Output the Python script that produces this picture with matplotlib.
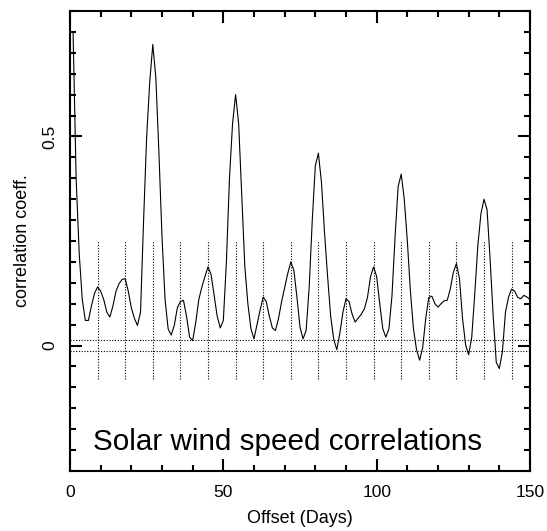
import numpy as np
import matplotlib
matplotlib.use("Agg")
import matplotlib.pyplot as plt
from matplotlib.ticker import MultipleLocator

# ---- data ----
days = list(range(1, 151))
corr = [
    0.75, 0.40, 0.22, 0.11, 0.06, 0.06, 0.095, 0.125, 0.14, 0.13,
    0.11, 0.08, 0.068, 0.095, 0.13, 0.148, 0.158, 0.16, 0.13, 0.09,
    0.065, 0.048, 0.08, 0.30, 0.50, 0.63, 0.72, 0.64, 0.46, 0.26,
    0.11, 0.04, 0.025, 0.048, 0.09, 0.105, 0.108, 0.07, 0.02, 0.012,
    0.055, 0.11, 0.14, 0.165, 0.188, 0.17, 0.12, 0.07, 0.042, 0.06,
    0.20, 0.40, 0.53, 0.60, 0.53, 0.36, 0.19, 0.10, 0.04, 0.016,
    0.05, 0.085, 0.116, 0.105, 0.07, 0.042, 0.036, 0.065, 0.105, 0.138,
    0.172, 0.20, 0.18, 0.116, 0.044, 0.016, 0.036, 0.14, 0.30, 0.43,
    0.46, 0.39, 0.27, 0.165, 0.07, 0.015, -0.01, 0.03, 0.08, 0.112,
    0.105, 0.075, 0.056, 0.066, 0.075, 0.088, 0.115, 0.165, 0.188, 0.165,
    0.10, 0.04, 0.02, 0.04, 0.12, 0.26, 0.38, 0.41, 0.35, 0.25,
    0.13, 0.04, -0.01, -0.035, -0.005, 0.065, 0.115, 0.118, 0.10, 0.092,
    0.10, 0.107, 0.108, 0.135, 0.175, 0.196, 0.16, 0.065, 0.002, -0.022,
    0.02, 0.125, 0.24, 0.315, 0.35, 0.325, 0.205, 0.07, -0.04, -0.055,
    -0.015, 0.08, 0.116, 0.135, 0.13, 0.115, 0.112, 0.12, 0.116, 0.11,
]
marker_days = [9, 18, 27, 36, 45, 54, 63, 72, 81, 90, 99, 108, 117, 126, 135, 144]
marker_range = [-0.08, 0.25]
sig_levels = [0.013, -0.013]
xticks = [0, 50, 100, 150]
xticklabels = ["0", "50", "100", "150"]
yticks = [0, 0.5]
yticklabels = ["0", "0.5"]
title_text = "Solar wind speed correlations"

plt.rcParams['font.family'] = ['Liberation Sans', 'DejaVu Sans']

fig = plt.figure(figsize=(5.47, 5.31), dpi=100)
ax = fig.add_axes([70/547, 1-471/531, 460/547, 460/531])

for d in marker_days:
    ax.plot([d, d], marker_range, color='black', lw=0.8, ls=(0, (1, 1.5)))
for s in sig_levels:
    ax.axhline(s, color='black', lw=0.8, ls=(0, (1, 1.5)))

ax.plot(days, corr, color='black', lw=0.8)

ax.set_xlim(0, 150)
ax.set_ylim(-0.3, 0.8)

ax.set_xticks(xticks)
ax.set_xticklabels(xticklabels)
ax.set_yticks(yticks)
ax.set_yticklabels(yticklabels, rotation=90, va='center')
ax.xaxis.set_minor_locator(MultipleLocator(10))
ax.yaxis.set_minor_locator(MultipleLocator(0.05))
ax.tick_params(which='both', direction='in', top=True, right=True, width=1.5, labelsize=12.5)
ax.tick_params(which='major', length=8.5)
ax.tick_params(axis='x', which='major', pad=10)
ax.tick_params(axis='y', which='major', pad=9)
ax.tick_params(which='minor', length=4.5)
for sp in ax.spines.values():
    sp.set_linewidth(1.5)

ax.set_xlabel("Offset (Days)", fontsize=13, labelpad=7)
ax.set_ylabel("correlation coeff.", fontsize=13, labelpad=8)

ax.text(7.5, -0.25, title_text, fontsize=21.3, ha='left', va='baseline')

fig.savefig("out.png", dpi=100)
